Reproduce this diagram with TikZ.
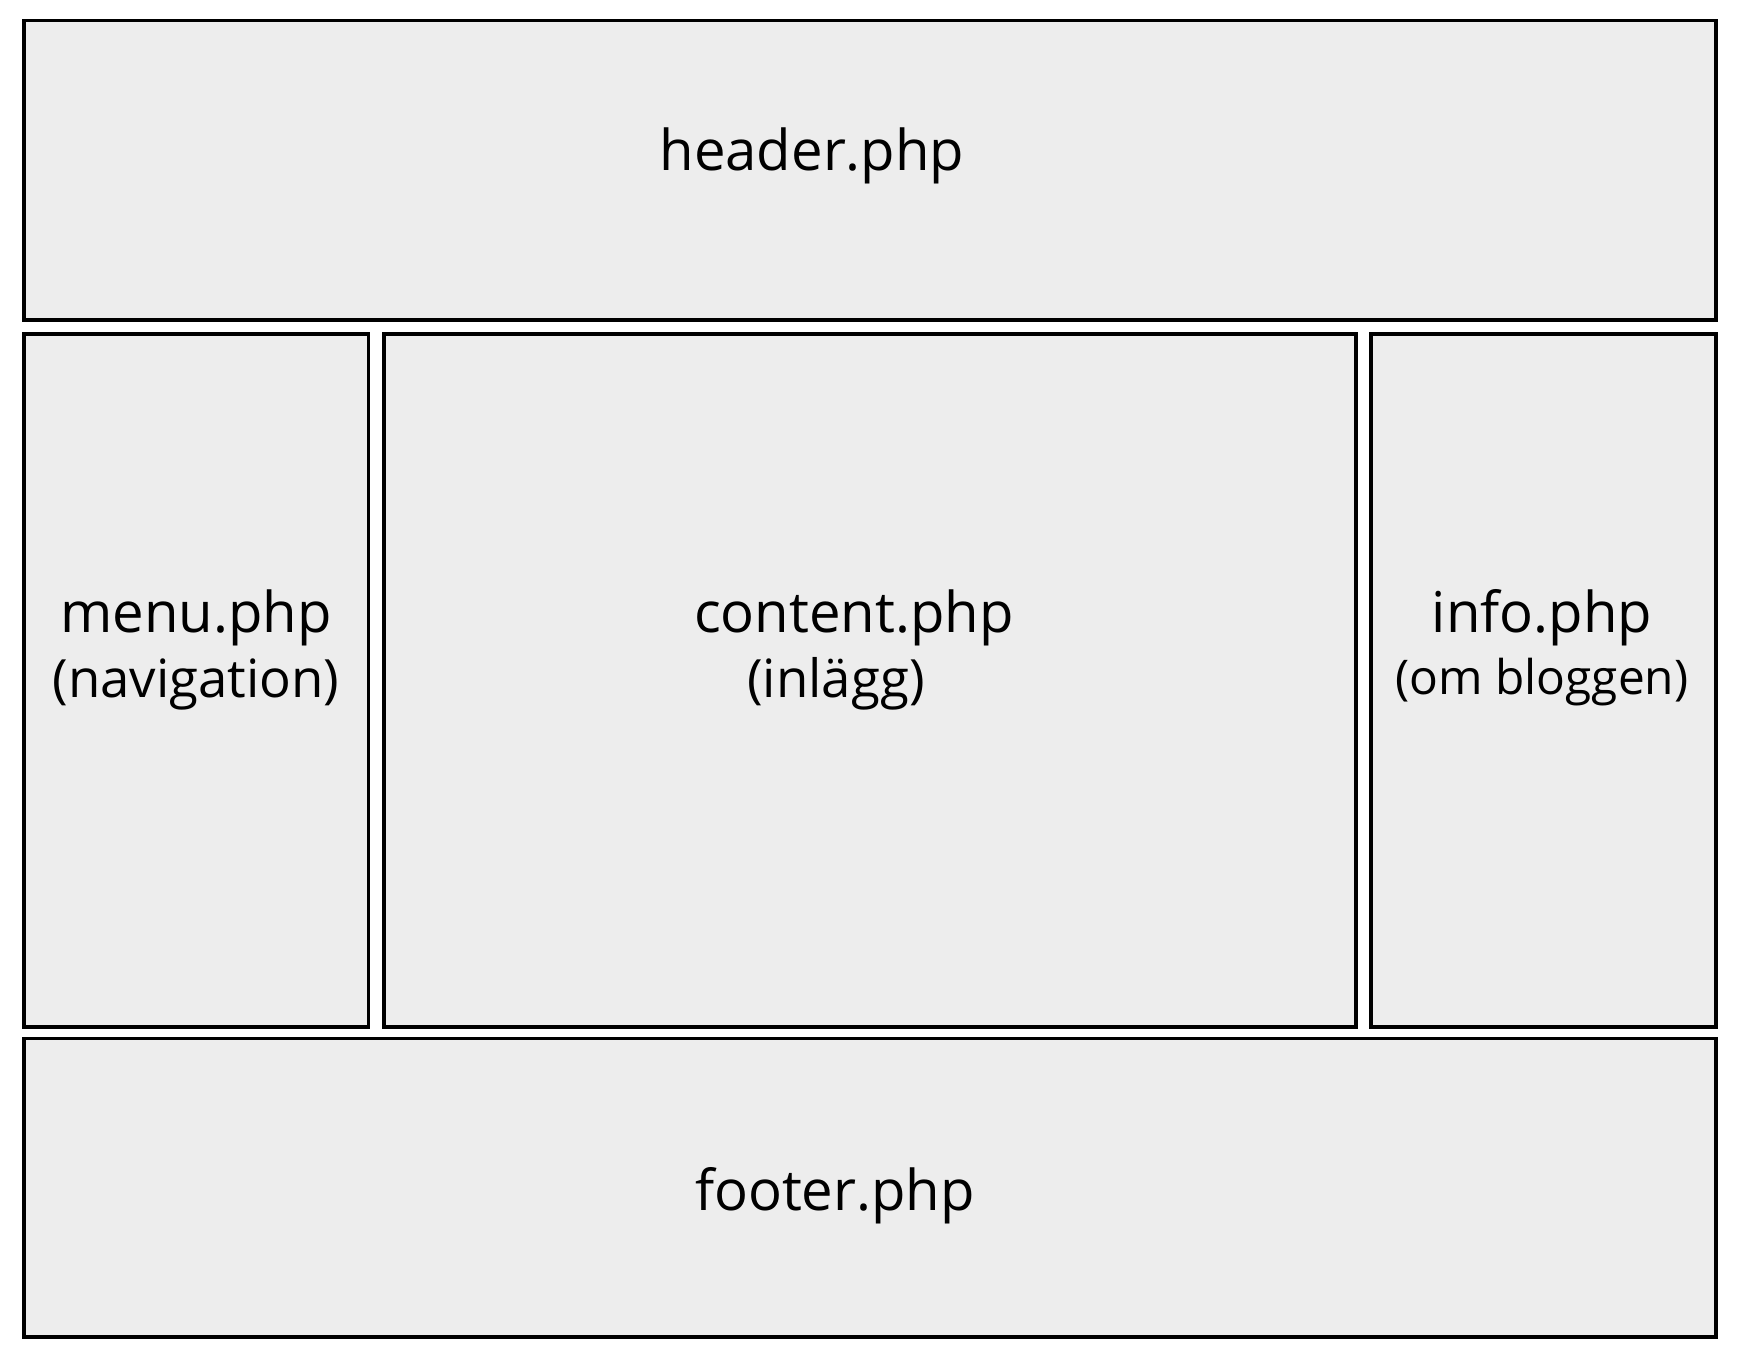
\documentclass[tikz,border=0pt]{standalone}
\usepackage{fontspec}
\setmainfont{Open Sans}
\begin{document}
\begin{tikzpicture}[x=0.01cm,y=-0.01cm,
  panel/.style={draw=black,fill=panelgray,line width=0.95pt},
  lbl/.style={anchor=base,inner sep=0pt,font=\fontsize{16}{19}\selectfont},
  lblsub/.style={anchor=base,inner sep=0pt,font=\fontsize{15}{18}\selectfont},
  lblsmall/.style={anchor=base,inner sep=0pt,font=\fontsize{13.6}{16}\selectfont}]
\definecolor{panelgray}{HTML}{EDEDED}
\useasboundingbox (0,0) rectangle (1744,1362);
% panels
\draw[panel] (24,20.5) rectangle (1716,320);
\draw[panel] (24,334) rectangle (368.5,1027);
\draw[panel] (384,334) rectangle (1356,1027);
\draw[panel] (1371,334) rectangle (1716,1027);
\draw[panel] (24,1038.5) rectangle (1716,1337);
% labels
\node[lbl] (header) at (812,170) {header.php};
\node[lbl] (menu) at (196,632) {menu.php};
\node[lblsub] (menusub) at (196,697) {(navigation)};
\node[lbl] (content) at (854,632) {content.php};
\node[lblsub] (contentsub) at (836,697) {(inlägg)};
\node[lbl] (info) at (1542,632) {info.php};
\node[lblsmall] (infosub) at (1542,694) {(om bloggen)};
\node[lbl] (footer) at (835,1210) {footer.php};
\end{tikzpicture}
\end{document}
